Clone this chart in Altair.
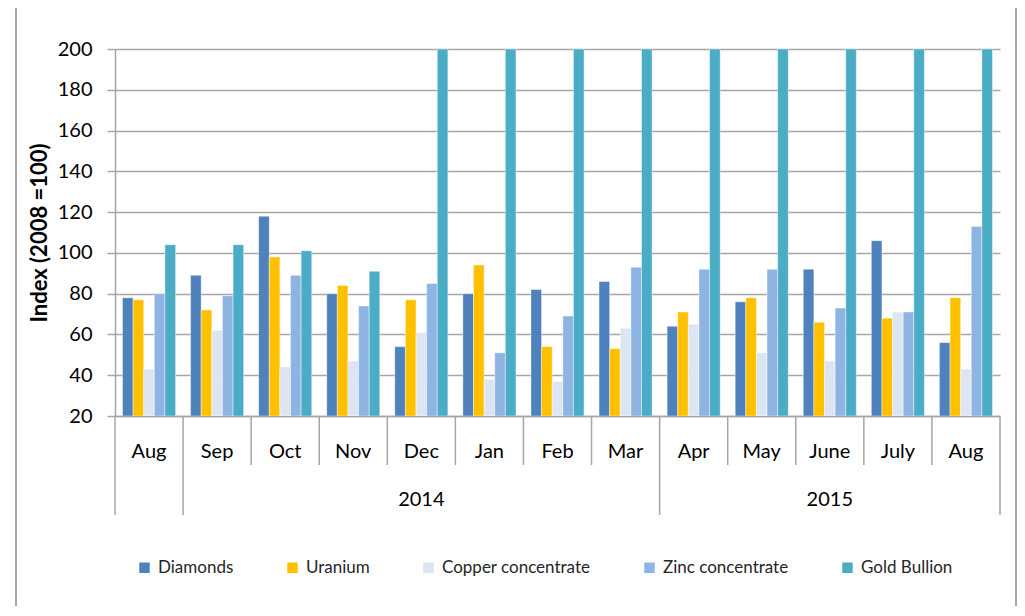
import altair as alt
import pandas as pd

# ---- data ----
month_ids = ["2014-08", "2014-09", "2014-10", "2014-11", "2014-12", "2015-01", "2015-02",
             "2015-03", "2015-04", "2015-05", "2015-06", "2015-07", "2015-08"]
month_labels = ["Aug", "Sep", "Oct", "Nov", "Dec", "Jan", "Feb", "Mar", "Apr", "May",
                "June", "July", "Aug"]
series = ["Diamonds", "Uranium", "Copper concentrate", "Zinc concentrate", "Gold Bullion"]
diamonds = [78, 89, 118, 80, 54, 80, 82, 86, 64, 76, 92, 106, 56]
uranium = [77, 72, 98, 84, 77, 94, 54, 53, 71, 78, 66, 68, 78]
copper = [43, 62, 44, 47, 61, 38, 37, 63, 65, 51, 47, 71, 43]
zinc = [80, 79, 89, 74, 85, 51, 69, 93, 92, 92, 73, 71, 113]
# Gold Bullion runs off the top of the axis from Dec 2014 on (shown capped at 200)
gold = [104, 104, 101, 91, 200, 200, 200, 200, 200, 200, 200, 200, 200]
colors = ["#4F81BD", "#FFC000", "#DCE6F2", "#8EB4E3", "#4BACC6"]
year_labels = ["2014", "2015"]
year_centers = [4.5, 10.5]
long_seps = [0, 1, 8, 13]
short_seps = [2, 3, 4, 5, 6, 7, 9, 10, 11, 12]

values = [diamonds, uranium, copper, zinc, gold]
rows = []
for s, vals in zip(series, values):
    for m, v in zip(month_ids, vals):
        rows.append({"month": m, "series": s, "value": v})
df = pd.DataFrame(rows)

W, H = 885, 367
FONT = "Lato"
GRAY = "#A6A6A6"

bars = alt.Chart(df).mark_bar(stroke="white", strokeWidth=0.6, strokeOpacity=0.7, clip=True).encode(
    x=alt.X("month:N", sort=month_ids,
            scale=alt.Scale(paddingInner=0.22, paddingOuter=0.11),
            axis=alt.Axis(labels=False, ticks=False, title=None, domain=True,
                          domainColor=GRAY, domainWidth=1.5)),
    xOffset=alt.XOffset("series:N", sort=series, scale=alt.Scale(paddingInner=0, paddingOuter=0)),
    y=alt.Y("value:Q", scale=alt.Scale(domain=[20, 200], zero=False, nice=False),
            axis=alt.Axis(values=list(range(20, 201, 20)), title="Index (2008 =100)",
                          titleFont=FONT, titleFontSize=22, titleFontWeight="bold",
                          titleColor="#000000", titlePadding=6,
                          labelFont=FONT, labelFontSize=20, labelColor="#000000",
                          labelPadding=15, tickSize=8, tickColor=GRAY, tickWidth=1.5,
                          domainColor=GRAY, domainWidth=1.5,
                          grid=True, gridColor=GRAY, gridWidth=1.5)),
    y2=alt.datum(20),
    color=alt.Color("series:N", sort=series,
                    scale=alt.Scale(domain=series, range=colors),
                    legend=alt.Legend(title=None, orient="none", legendX=21, legendY=510,
                                      direction="horizontal", columns=5,
                                      symbolType="square", symbolSize=110,
                                      symbolStrokeWidth=0, labelOffset=5,
                                      columnPadding=50, labelFont=FONT,
                                      labelFontSize=17, labelColor="#262626")),
)

xq = alt.Scale(domain=[0, 13], nice=False, zero=False)

long_df = pd.DataFrame({"i": long_seps})
short_df = pd.DataFrame({"i": short_seps})
month_df = pd.DataFrame({"i": [k + 0.5 for k in range(13)], "label": month_labels})
year_df = pd.DataFrame({"i": year_centers, "label": year_labels})

long_rules = alt.Chart(long_df).mark_rule(color=GRAY, strokeWidth=1.5).encode(
    x=alt.X("i:Q", scale=xq, axis=None), y=alt.value(H), y2=alt.value(466))
short_rules = alt.Chart(short_df).mark_rule(color=GRAY, strokeWidth=1.5).encode(
    x=alt.X("i:Q", scale=xq, axis=None), y=alt.value(H), y2=alt.value(416))
month_text = alt.Chart(month_df).mark_text(font=FONT, fontSize=20, color="#000000",
                                           baseline="middle", align="center").encode(
    x=alt.X("i:Q", scale=xq, axis=None), y=alt.value(403), text="label:N")
year_text = alt.Chart(year_df).mark_text(font=FONT, fontSize=20, color="#000000",
                                         baseline="middle", align="center").encode(
    x=alt.X("i:Q", scale=xq, axis=None), y=alt.value(451), text="label:N")

frame = alt.Chart(pd.DataFrame({"a": [0]})).mark_rect(fill=None, stroke=GRAY, strokeWidth=2).encode(
    x=alt.value(-99), x2=alt.value(901), y=alt.value(-44), y2=alt.value(700))

chart = alt.layer(frame, bars, long_rules, short_rules, month_text, year_text).resolve_scale(
    x="independent").properties(
    width=W, height=H,
    autosize=alt.AutoSizeParams(type="none"),
    padding={"left": 107, "top": 41, "right": 17, "bottom": 190},
).configure_view(stroke=None)

chart.save("out.html", embed_options={"renderer": "svg", "actions": False})
